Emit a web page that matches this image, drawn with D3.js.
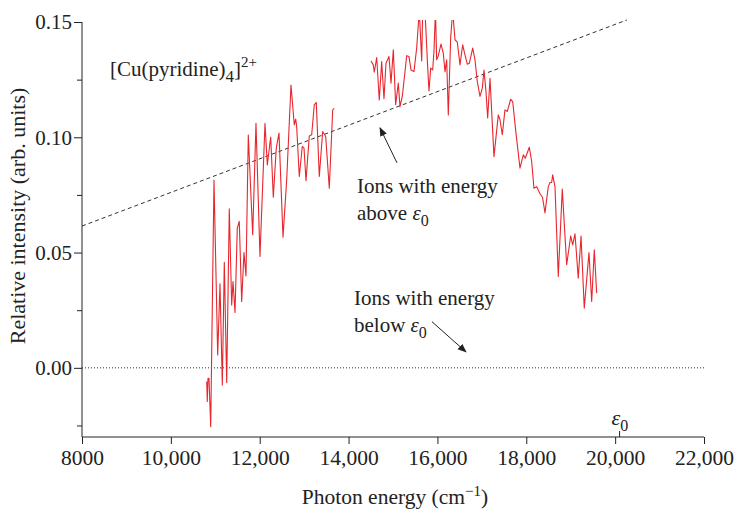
<!DOCTYPE html>
<meta charset="utf-8">
<style>
  body { margin: 0; background: #fff; }
  text { font-family: "Liberation Serif", "Times New Roman", serif; fill: #222; }
  .axis path, .axis line { stroke: #222; stroke-width: 1; }
  .signal { fill: none; stroke: #e8262d; stroke-width: 1.1; stroke-linejoin: round; }
</style>
<body>
<div id="chart"></div>
<script src="https://cdn.jsdelivr.net/npm/d3@7"></script>
<script>

// photon energy (cm^-1) and relative intensity, low-energy band
var energyA = [10807, 10820, 10836, 10858, 10897, 10971, 11054, 11106, 11158, 11203,
               11257, 11315, 11369, 11399, 11444, 11495, 11540, 11594, 11646, 11691,
               11743, 11842, 11916, 12006, 12119, 12171, 12247, 12306, 12373, 12434,
               12524, 12607, 12704, 12778, 12810, 12832, 12891, 12958, 12997, 13042,
               13116, 13170, 13228, 13273, 13341, 13417, 13485, 13566, 13643, 13679];
var intensityA = [-0.0059, -0.0146, -0.0045, -0.0045, -0.0255, 0.0815, 0.0056, 0.0364, -0.0074, 0.0458,
                  -0.0064, 0.0690, 0.0273, 0.0374, 0.0240, 0.0606, 0.0635, 0.0288, 0.0500, 0.0399,
                  0.1010, 0.0577, 0.1061, 0.0483, 0.1061, 0.0880, 0.1001, 0.0740, 0.0953, 0.1018,
                  0.0567, 0.0815, 0.1227, 0.1054, 0.1079, 0.1047, 0.0830, 0.0960, 0.0953, 0.0812,
                  0.1006, 0.1011, 0.1141, 0.1151, 0.0830, 0.1025, 0.1003, 0.0779, 0.1119, 0.1125];

// high-energy band
var energyB = [14505, 14556, 14579, 14633, 14691, 14745, 14797, 14842, 14910, 14955,
               15007, 15060, 15119, 15157, 15209, 15254, 15308, 15360, 15405, 15472,
               15533, 15592, 15646, 15668, 15720, 15781, 15810, 15848, 15893, 15922,
               15956, 15983, 16019, 16080, 16132, 16170, 16208, 16245, 16298, 16343,
               16395, 16447, 16508, 16568, 16620, 16672, 16717, 16794, 16845, 16897,
               16958, 17010, 17048, 17093, 17131, 17183, 17273, 17370, 17408, 17460,
               17520, 17572, 17649, 17694, 17768, 17858, 17933, 17977, 18068, 18121,
               18173, 18234, 18308, 18365, 18421, 18495, 18534, 18571, 18594, 18646,
               18720, 18810, 18909, 18999, 19044, 19096, 19170, 19232, 19305, 19411,
               19472, 19531, 19584];
var intensityB = [0.1331, 0.1314, 0.1282, 0.1346, 0.1162, 0.1328, 0.1167, 0.1321, 0.1350, 0.1235,
                  0.1379, 0.1141, 0.1235, 0.1133, 0.1177, 0.1256, 0.1354, 0.1350, 0.1292, 0.1285,
                  0.1387, 0.1550, 0.1331, 0.1550, 0.1550, 0.1302, 0.1201, 0.1300, 0.1292, 0.1372,
                  0.1550, 0.1336, 0.1353, 0.1404, 0.1365, 0.1284, 0.1336, 0.1097, 0.1431, 0.1550,
                  0.1423, 0.1413, 0.1314, 0.1401, 0.1357, 0.1317, 0.1321, 0.1387, 0.1336, 0.1242,
                  0.1177, 0.1213, 0.1292, 0.1198, 0.1084, 0.1256, 0.0916, 0.1097, 0.1076, 0.1011,
                  0.1119, 0.1112, 0.1165, 0.1155, 0.1018, 0.0866, 0.0924, 0.0909, 0.0957, 0.0895,
                  0.0779, 0.0786, 0.0755, 0.0740, 0.0672, 0.0786, 0.0804, 0.0804, 0.0837, 0.0786,
                  0.0396, 0.0775, 0.0447, 0.0572, 0.0533, 0.0581, 0.0389, 0.0572, 0.0259, 0.0500,
                  0.0288, 0.0512, 0.0324];

// dashed threshold line and epsilon_0 position
var thresholdX = [8000, 20266];
var thresholdY = [0.0615, 0.1509];
var epsilon0 = 20100;

var xTicks = [8000, 10000, 12000, 14000, 16000, 18000, 20000, 22000];
var yTicks = [0.00, 0.05, 0.10, 0.15];
var yMinorTicks = [-0.025, 0.025, 0.075, 0.125];

var width = 734, height = 511;
var margin = {left: 82, right: 30, top: 22, bottom: 74};

var svg = d3.select("#chart").append("svg")
            .attr("width", width)
            .attr("height", height);

var x = d3.scaleLinear().domain([8000, 22000]).range([margin.left, width - margin.right]);
var y = d3.scaleLinear().domain([-0.03, 0.15]).range([height - margin.bottom, margin.top]);

svg.append("defs").append("clipPath").attr("id", "plot-clip")
   .append("rect")
   .attr("x", margin.left).attr("y", margin.top - 2)
   .attr("width", width - margin.left - margin.right)
   .attr("height", height - margin.top - margin.bottom + 2);

svg.select("defs").append("marker")
   .attr("id", "arrow")
   .attr("viewBox", "0 0 10 10")
   .attr("refX", 9).attr("refY", 5)
   .attr("markerWidth", 9).attr("markerHeight", 9)
   .attr("markerUnits", "userSpaceOnUse")
   .attr("orient", "auto")
   .append("path").attr("d", "M0,1 L10,5 L0,9 z").attr("fill", "#222");

// axes
var fmt = d3.format(",");
svg.append("g")
   .attr("class", "axis")
   .attr("transform", "translate(0," + y(-0.03) + ")")
   .call(d3.axisBottom(x).tickValues(xTicks).tickSize(7).tickPadding(6)
         .tickFormat(function(d) { return d < 10000 ? d : fmt(d); }))
   .call(function(g) { g.select(".domain").attr("d", "M" + x(8000) + ",0H" + x(22000)); })
   .selectAll("text").style("font-size", "21.5px");

svg.append("g")
   .attr("class", "axis")
   .attr("transform", "translate(" + margin.left + ",0)")
   .call(d3.axisLeft(y).tickValues(yTicks).tickSize(8).tickPadding(2).tickFormat(d3.format(".2f")))
   .call(function(g) { g.select(".domain").attr("d", "M0," + y(0.15) + "V" + y(-0.03)); })
   .selectAll("text").style("font-size", "21px");

svg.append("g")
   .attr("class", "axis")
   .attr("transform", "translate(" + margin.left + ",0)")
   .call(d3.axisLeft(y).tickValues(yMinorTicks).tickSize(5).tickFormat(""))
   .select(".domain").remove();

// epsilon_0 marker on x axis
svg.append("line")
   .attr("x1", x(epsilon0)).attr("x2", x(epsilon0))
   .attr("y1", y(-0.03)).attr("y2", y(-0.03) - 6)
   .attr("stroke", "#222");
var eLabel = svg.append("text")
   .attr("x", x(epsilon0) - 8).attr("y", y(-0.03) - 12)
   .style("font-size", "22px");
eLabel.append("tspan").style("font-style", "italic").text("ε");
eLabel.append("tspan").attr("dy", 6).style("font-size", "16px").text("0");

// zero baseline (dotted)
svg.append("line")
   .attr("x1", x(8000)).attr("x2", x(22000))
   .attr("y1", y(0)).attr("y2", y(0))
   .attr("stroke", "#333").attr("stroke-width", 1)
   .attr("stroke-dasharray", "1,2");

// threshold line (dashed)
var thresh = d3.zip(thresholdX, thresholdY);
svg.append("path")
   .datum(thresh)
   .attr("d", d3.line().x(function(d) { return x(d[0]); }).y(function(d) { return y(d[1]); }))
   .attr("fill", "none").attr("stroke", "#333").attr("stroke-width", 1)
   .attr("stroke-dasharray", "4,3");

// spectra
var line = d3.line()
             .x(function(d) { return x(d[0]); })
             .y(function(d) { return y(d[1]); });

var plot = svg.append("g").attr("clip-path", "url(#plot-clip)");
[d3.zip(energyA, intensityA), d3.zip(energyB, intensityB)].forEach(function(seg) {
  plot.append("path").datum(seg).attr("class", "signal").attr("d", line);
});

// annotations
var title = svg.append("text").attr("x", 110).attr("y", 76).style("font-size", "21px");
title.append("tspan").text("[Cu(pyridine)");
title.append("tspan").attr("dy", 6).style("font-size", "17px").text("4");
title.append("tspan").attr("dy", -6).text("]");
title.append("tspan").attr("dy", -9).style("font-size", "15px").text("2+");

function epsLabel(px, py, word) {
  var t = svg.append("text").attr("x", px).attr("y", py).style("font-size", "21px");
  t.append("tspan").text(word + " ");
  t.append("tspan").style("font-style", "italic").text("ε");
  t.append("tspan").attr("dy", 6).style("font-size", "16px").text("0");
}

svg.append("text").attr("x", 357).attr("y", 193).style("font-size", "21px").text("Ions with energy");
epsLabel(357, 220, "above");
svg.append("text").attr("x", 354).attr("y", 305).style("font-size", "21px").text("Ions with energy");
epsLabel(354, 332, "below");

svg.append("line")
   .attr("x1", x(15090)).attr("y1", y(0.0889))
   .attr("x2", x(14707)).attr("y2", y(0.1041))
   .attr("stroke", "#222").attr("marker-end", "url(#arrow)");
svg.append("line")
   .attr("x1", x(15877)).attr("y1", y(0.0200))
   .attr("x2", x(16643)).attr("y2", y(0.0069))
   .attr("stroke", "#222").attr("marker-end", "url(#arrow)");

// axis titles
var xt = svg.append("text")
   .attr("x", 395).attr("y", 504)
   .attr("text-anchor", "middle").style("font-size", "21.5px");
xt.append("tspan").text("Photon energy (cm");
xt.append("tspan").attr("dy", -8).style("font-size", "15px").text("−1");
xt.append("tspan").attr("dy", 8).text(")");

svg.append("text")
   .attr("transform", "translate(25," + 216 + ") rotate(-90)")
   .attr("text-anchor", "middle").style("font-size", "22px")
   .text("Relative intensity (arb. units)");

</script>
</body>
